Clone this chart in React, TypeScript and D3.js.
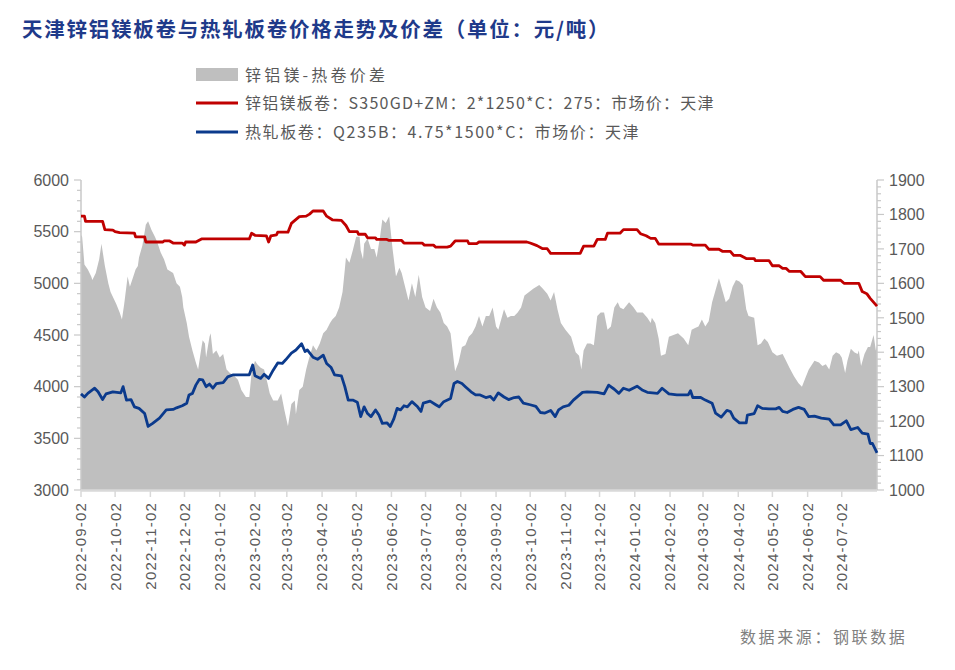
import React from "react";
import * as d3 from "d3";

const TITLE = "天津锌铝镁板卷与热轧板卷价格走势及价差（单位：元/吨）";
const LEGEND_SPREAD = "锌铝镁-热卷价差";
const LEGEND_ZAM = "锌铝镁板卷：S350GD+ZM：2*1250*C：275：市场价：天津";
const LEGEND_HRC = "热轧板卷：Q235B：4.75*1500*C：市场价：天津";
const SOURCE = "数据来源：钢联数据";

const xTickLabels = [
  "2022-09-02", "2022-10-02", "2022-11-02", "2022-12-02", "2023-01-02", "2023-02-02",
  "2023-03-02", "2023-04-02", "2023-05-02", "2023-06-02", "2023-07-02", "2023-08-02",
  "2023-09-02", "2023-10-02", "2023-11-02", "2023-12-02", "2024-01-02", "2024-02-02",
  "2024-03-02", "2024-04-02", "2024-05-02", "2024-06-02", "2024-07-02",
];
const leftTicks = [3000, 3500, 4000, 4500, 5000, 5500, 6000];
const rightTicks = [1000, 1100, 1200, 1300, 1400, 1500, 1600, 1700, 1800, 1900];

// 锌铝镁板卷 (left axis)
const zamSeries: [string, number][] = [
  ["2022-09-02", 5650], ["2022-09-05", 5650], ["2022-09-06", 5600], ["2022-09-21", 5600],
  ["2022-09-23", 5520], ["2022-09-30", 5515], ["2022-10-02", 5500], ["2022-10-06", 5490],
  ["2022-10-19", 5485], ["2022-10-20", 5450], ["2022-10-28", 5450], ["2022-10-29", 5400],
  ["2022-11-13", 5400], ["2022-11-14", 5410], ["2022-11-19", 5410], ["2022-11-22", 5390],
  ["2022-11-30", 5390], ["2022-12-02", 5370], ["2022-12-03", 5400], ["2022-12-12", 5400],
  ["2022-12-17", 5430], ["2023-01-28", 5430], ["2023-01-30", 5485], ["2023-02-02", 5465],
  ["2023-02-12", 5460], ["2023-02-14", 5400], ["2023-02-16", 5460], ["2023-02-21", 5470],
  ["2023-02-22", 5495], ["2023-03-03", 5495], ["2023-03-06", 5580], ["2023-03-13", 5645],
  ["2023-03-19", 5650], ["2023-03-22", 5670], ["2023-03-25", 5700], ["2023-04-03", 5700],
  ["2023-04-06", 5650], ["2023-04-11", 5615], ["2023-04-19", 5610], ["2023-04-23", 5560],
  ["2023-04-26", 5500], ["2023-05-03", 5500], ["2023-05-04", 5475], ["2023-05-10", 5475],
  ["2023-05-12", 5440], ["2023-05-19", 5440], ["2023-05-20", 5425], ["2023-05-29", 5425],
  ["2023-05-31", 5415], ["2023-06-11", 5415], ["2023-06-13", 5390], ["2023-06-29", 5390],
  ["2023-07-01", 5370], ["2023-07-09", 5370], ["2023-07-11", 5350], ["2023-07-21", 5350],
  ["2023-07-24", 5360], ["2023-07-28", 5410], ["2023-08-08", 5410], ["2023-08-09", 5385],
  ["2023-08-16", 5385], ["2023-08-18", 5400], ["2023-09-29", 5400], ["2023-10-02", 5390],
  ["2023-10-08", 5365], ["2023-10-13", 5335], ["2023-10-17", 5335], ["2023-10-20", 5290],
  ["2023-11-15", 5290], ["2023-11-18", 5360], ["2023-11-27", 5360], ["2023-11-30", 5425],
  ["2023-12-07", 5425], ["2023-12-09", 5485], ["2023-12-20", 5485], ["2023-12-23", 5520],
  ["2024-01-04", 5520], ["2024-01-07", 5480], ["2024-01-12", 5460], ["2024-01-16", 5435],
  ["2024-01-20", 5435], ["2024-01-23", 5380], ["2024-02-20", 5380], ["2024-02-22", 5370],
  ["2024-03-04", 5370], ["2024-03-07", 5330], ["2024-03-16", 5330], ["2024-03-19", 5310],
  ["2024-03-26", 5310], ["2024-03-29", 5270], ["2024-04-04", 5270], ["2024-04-09", 5240],
  ["2024-04-16", 5240], ["2024-04-17", 5220], ["2024-04-29", 5220], ["2024-05-02", 5170],
  ["2024-05-08", 5170], ["2024-05-11", 5145], ["2024-05-14", 5145], ["2024-05-17", 5115],
  ["2024-05-27", 5115], ["2024-05-31", 5065], ["2024-06-13", 5065], ["2024-06-16", 5030],
  ["2024-07-01", 5030], ["2024-07-04", 5000], ["2024-07-17", 5000], ["2024-07-20", 4920],
  ["2024-07-24", 4900], ["2024-07-27", 4855], ["2024-08-02", 4780],
];

// 热轧板卷 (left axis)
const hrcSeries: [string, number][] = [
  ["2022-09-02", 3930], ["2022-09-05", 3900], ["2022-09-08", 3935], ["2022-09-14", 3985],
  ["2022-09-17", 3950], ["2022-09-21", 3875], ["2022-09-24", 3930], ["2022-09-30", 3950],
  ["2022-10-07", 3940], ["2022-10-09", 4000], ["2022-10-12", 3870], ["2022-10-16", 3875],
  ["2022-10-19", 3805], ["2022-10-23", 3790], ["2022-10-28", 3740], ["2022-10-31", 3615],
  ["2022-11-04", 3645], ["2022-11-10", 3695], ["2022-11-16", 3775], ["2022-11-22", 3780],
  ["2022-11-25", 3795], ["2022-11-30", 3815], ["2022-12-04", 3840], ["2022-12-06", 3920],
  ["2022-12-09", 3935], ["2022-12-12", 4015], ["2022-12-15", 4070], ["2022-12-18", 4065],
  ["2022-12-21", 4000], ["2022-12-24", 4025], ["2022-12-27", 3985], ["2022-12-30", 4030],
  ["2023-01-05", 4040], ["2023-01-09", 4095], ["2023-01-14", 4115], ["2023-01-28", 4115],
  ["2023-01-31", 4210], ["2023-02-02", 4105], ["2023-02-07", 4080], ["2023-02-10", 4120],
  ["2023-02-14", 4080], ["2023-02-18", 4160], ["2023-02-22", 4230], ["2023-02-26", 4225],
  ["2023-03-01", 4260], ["2023-03-06", 4325], ["2023-03-10", 4355], ["2023-03-15", 4415],
  ["2023-03-18", 4340], ["2023-03-20", 4355], ["2023-03-25", 4285], ["2023-03-29", 4265],
  ["2023-04-03", 4305], ["2023-04-06", 4225], ["2023-04-10", 4185], ["2023-04-13", 4115],
  ["2023-04-19", 4105], ["2023-04-22", 4000], ["2023-04-25", 3870], ["2023-04-29", 3870],
  ["2023-05-03", 3850], ["2023-05-06", 3710], ["2023-05-09", 3805], ["2023-05-12", 3740],
  ["2023-05-15", 3710], ["2023-05-19", 3775], ["2023-05-22", 3725], ["2023-05-25", 3645],
  ["2023-05-29", 3650], ["2023-06-01", 3615], ["2023-06-04", 3685], ["2023-06-07", 3790],
  ["2023-06-10", 3775], ["2023-06-13", 3815], ["2023-06-16", 3805], ["2023-06-20", 3855],
  ["2023-06-25", 3805], ["2023-06-28", 3760], ["2023-06-30", 3840], ["2023-07-06", 3860],
  ["2023-07-11", 3825], ["2023-07-14", 3805], ["2023-07-18", 3855], ["2023-07-24", 3885],
  ["2023-07-27", 4030], ["2023-07-30", 4050], ["2023-08-03", 4030], ["2023-08-06", 4000],
  ["2023-08-11", 3950], ["2023-08-15", 3920], ["2023-08-19", 3920], ["2023-08-24", 3895],
  ["2023-08-28", 3905], ["2023-08-31", 3870], ["2023-09-04", 3940], ["2023-09-09", 3900],
  ["2023-09-13", 3875], ["2023-09-18", 3895], ["2023-09-22", 3900], ["2023-09-26", 3840],
  ["2023-10-02", 3825], ["2023-10-07", 3810], ["2023-10-11", 3750], ["2023-10-15", 3745],
  ["2023-10-20", 3770], ["2023-10-24", 3710], ["2023-10-27", 3775], ["2023-10-31", 3805],
  ["2023-11-05", 3820], ["2023-11-09", 3870], ["2023-11-17", 3945], ["2023-11-21", 3950],
  ["2023-11-30", 3945], ["2023-12-06", 3930], ["2023-12-10", 4015], ["2023-12-15", 3975],
  ["2023-12-19", 3935], ["2023-12-23", 3985], ["2023-12-28", 3965], ["2024-01-04", 4005],
  ["2024-01-09", 3965], ["2024-01-13", 3945], ["2024-01-22", 3935], ["2024-01-26", 3985],
  ["2024-02-01", 3930], ["2024-02-08", 3920], ["2024-02-18", 3920], ["2024-02-20", 3960],
  ["2024-02-22", 3895], ["2024-02-29", 3895], ["2024-03-04", 3870], ["2024-03-10", 3840],
  ["2024-03-13", 3745], ["2024-03-18", 3705], ["2024-03-23", 3770], ["2024-03-26", 3760],
  ["2024-03-29", 3695], ["2024-04-03", 3650], ["2024-04-09", 3650], ["2024-04-10", 3725],
  ["2024-04-16", 3740], ["2024-04-19", 3815], ["2024-04-23", 3790], ["2024-04-29", 3785],
  ["2024-05-05", 3785], ["2024-05-08", 3800], ["2024-05-11", 3760], ["2024-05-15", 3750],
  ["2024-05-20", 3780], ["2024-05-25", 3800], ["2024-05-30", 3780], ["2024-06-03", 3710],
  ["2024-06-08", 3715], ["2024-06-14", 3695], ["2024-06-21", 3685], ["2024-06-25", 3630],
  ["2024-07-01", 3630], ["2024-07-06", 3670], ["2024-07-10", 3585], ["2024-07-16", 3605],
  ["2024-07-20", 3550], ["2024-07-25", 3540], ["2024-07-27", 3450], ["2024-07-29", 3450],
  ["2024-08-02", 3360],
];

// 锌铝镁-热卷价差 (right axis)
const spreadSeries: [string, number][] = [
  ["2022-09-02", 1740], ["2022-09-03", 1735], ["2022-09-05", 1655], ["2022-09-08", 1640],
  ["2022-09-11", 1620], ["2022-09-12", 1610], ["2022-09-15", 1630], ["2022-09-18", 1670],
  ["2022-09-20", 1715], ["2022-09-23", 1650], ["2022-09-26", 1600], ["2022-09-28", 1575],
  ["2022-10-03", 1540], ["2022-10-06", 1515], ["2022-10-08", 1495], ["2022-10-10", 1540],
  ["2022-10-13", 1620], ["2022-10-15", 1590], ["2022-10-18", 1620], ["2022-10-20", 1640],
  ["2022-10-22", 1650], ["2022-10-23", 1675], ["2022-10-26", 1710], ["2022-10-29", 1770],
  ["2022-10-31", 1780], ["2022-11-03", 1755], ["2022-11-06", 1735], ["2022-11-08", 1720],
  ["2022-11-11", 1690], ["2022-11-14", 1670], ["2022-11-17", 1640], ["2022-11-22", 1630],
  ["2022-11-25", 1600], ["2022-11-28", 1590], ["2022-11-30", 1560], ["2022-12-01", 1530],
  ["2022-12-04", 1485], ["2022-12-06", 1445], ["2022-12-09", 1405], ["2022-12-12", 1370],
  ["2022-12-14", 1350], ["2022-12-17", 1415], ["2022-12-18", 1435], ["2022-12-20", 1425],
  ["2022-12-21", 1385], ["2022-12-24", 1445], ["2022-12-25", 1455], ["2022-12-27", 1395],
  ["2022-12-30", 1405], ["2023-01-02", 1385], ["2023-01-05", 1395], ["2023-01-08", 1350],
  ["2023-01-11", 1340], ["2023-01-15", 1330], ["2023-01-18", 1320], ["2023-01-21", 1290],
  ["2023-01-25", 1270], ["2023-01-28", 1270], ["2023-01-30", 1340], ["2023-02-02", 1375],
  ["2023-02-04", 1365], ["2023-02-07", 1355], ["2023-02-10", 1350], ["2023-02-13", 1310],
  ["2023-02-15", 1280], ["2023-02-18", 1260], ["2023-02-22", 1260], ["2023-02-25", 1280],
  ["2023-02-28", 1230], ["2023-03-03", 1185], ["2023-03-06", 1250], ["2023-03-09", 1260],
  ["2023-03-10", 1220], ["2023-03-13", 1290], ["2023-03-16", 1300], ["2023-03-19", 1350],
  ["2023-03-21", 1375], ["2023-03-25", 1420], ["2023-03-28", 1405], ["2023-03-31", 1425],
  ["2023-04-03", 1455], ["2023-04-06", 1465], ["2023-04-09", 1485], ["2023-04-11", 1495],
  ["2023-04-14", 1505], ["2023-04-17", 1530], ["2023-04-20", 1575], ["2023-04-22", 1640],
  ["2023-04-23", 1675], ["2023-04-26", 1660], ["2023-04-29", 1695], ["2023-05-02", 1735],
  ["2023-05-05", 1735], ["2023-05-06", 1695], ["2023-05-08", 1670], ["2023-05-09", 1715],
  ["2023-05-12", 1730], ["2023-05-15", 1700], ["2023-05-18", 1700], ["2023-05-20", 1675],
  ["2023-05-23", 1735], ["2023-05-25", 1785], ["2023-05-28", 1775], ["2023-05-31", 1795],
  ["2023-06-03", 1700], ["2023-06-06", 1620], ["2023-06-09", 1645], ["2023-06-11", 1630],
  ["2023-06-14", 1590], ["2023-06-17", 1550], ["2023-06-20", 1600], ["2023-06-23", 1560],
  ["2023-06-26", 1625], ["2023-06-29", 1560], ["2023-07-02", 1530], ["2023-07-06", 1520],
  ["2023-07-09", 1555], ["2023-07-12", 1530], ["2023-07-15", 1515], ["2023-07-18", 1485],
  ["2023-07-21", 1475], ["2023-07-24", 1455], ["2023-07-27", 1370], ["2023-07-28", 1345],
  ["2023-07-31", 1370], ["2023-08-03", 1415], ["2023-08-06", 1420], ["2023-08-09", 1445],
  ["2023-08-12", 1455], ["2023-08-15", 1475], ["2023-08-18", 1505], ["2023-08-21", 1475],
  ["2023-08-24", 1505], ["2023-08-27", 1505], ["2023-08-30", 1530], ["2023-09-02", 1475],
  ["2023-09-04", 1465], ["2023-09-09", 1525], ["2023-09-12", 1500], ["2023-09-15", 1505],
  ["2023-09-18", 1505], ["2023-09-21", 1515], ["2023-09-24", 1530], ["2023-09-27", 1565],
  ["2023-10-01", 1575], ["2023-10-05", 1585], ["2023-10-10", 1595], ["2023-10-13", 1585],
  ["2023-10-17", 1570], ["2023-10-20", 1550], ["2023-10-23", 1575], ["2023-10-26", 1525],
  ["2023-10-29", 1485], ["2023-11-02", 1465], ["2023-11-07", 1445], ["2023-11-11", 1400],
  ["2023-11-14", 1390], ["2023-11-16", 1350], ["2023-11-18", 1405], ["2023-11-21", 1425],
  ["2023-11-24", 1425], ["2023-11-27", 1420], ["2023-11-30", 1505], ["2023-12-03", 1515],
  ["2023-12-06", 1515], ["2023-12-09", 1465], ["2023-12-12", 1475], ["2023-12-15", 1530],
  ["2023-12-18", 1545], ["2023-12-20", 1530], ["2023-12-23", 1525], ["2023-12-28", 1545],
  ["2024-01-01", 1530], ["2024-01-04", 1515], ["2024-01-09", 1515], ["2024-01-13", 1500],
  ["2024-01-16", 1485], ["2024-01-17", 1500], ["2024-01-20", 1485], ["2024-01-23", 1440],
  ["2024-01-25", 1390], ["2024-01-29", 1395], ["2024-02-01", 1445], ["2024-02-05", 1450],
  ["2024-02-09", 1455], ["2024-02-14", 1440], ["2024-02-18", 1420], ["2024-02-21", 1465],
  ["2024-02-24", 1470], ["2024-02-27", 1475], ["2024-03-01", 1495], ["2024-03-04", 1475],
  ["2024-03-07", 1490], ["2024-03-10", 1545], ["2024-03-13", 1580], ["2024-03-16", 1615],
  ["2024-03-19", 1580], ["2024-03-22", 1545], ["2024-03-25", 1555], ["2024-03-28", 1590],
  ["2024-03-31", 1610], ["2024-04-03", 1605], ["2024-04-06", 1595], ["2024-04-09", 1525],
  ["2024-04-11", 1505], ["2024-04-16", 1500], ["2024-04-19", 1420], ["2024-04-22", 1425],
  ["2024-04-25", 1440], ["2024-04-28", 1430], ["2024-05-02", 1400], ["2024-05-06", 1390],
  ["2024-05-11", 1395], ["2024-05-14", 1375], ["2024-05-17", 1355], ["2024-05-21", 1330],
  ["2024-05-25", 1310], ["2024-05-28", 1300], ["2024-05-31", 1325], ["2024-06-03", 1350],
  ["2024-06-08", 1375], ["2024-06-12", 1370], ["2024-06-15", 1360], ["2024-06-18", 1365],
  ["2024-06-21", 1350], ["2024-06-24", 1390], ["2024-06-27", 1400], ["2024-06-30", 1395],
  ["2024-07-02", 1385], ["2024-07-05", 1340], ["2024-07-07", 1375], ["2024-07-10", 1410],
  ["2024-07-13", 1400], ["2024-07-16", 1395], ["2024-07-17", 1405], ["2024-07-19", 1360],
  ["2024-07-22", 1395], ["2024-07-25", 1415], ["2024-07-27", 1415], ["2024-07-30", 1450],
  ["2024-08-01", 1405], ["2024-08-02", 1420],
];

const parse = d3.timeParse("%Y-%m-%d");
const W = 955;
const H = 670;
const M = { left: 81, right: 877, top: 180, bottom: 490 };

const RED = "#c00000";
const BLUE = "#0b3a8c";
const GRAY = "#bfbfbf";
const AXIS = "#c8c8c8";
const LABEL = "#595959";
const LATIN = "'Liberation Sans', Arial, sans-serif";
const CJK = "'Noto Sans CJK SC', 'Noto Sans', sans-serif";

export default function App() {
  const x = d3
    .scaleTime()
    .domain([parse("2022-09-02") as Date, parse("2024-08-02") as Date])
    .range([M.left, M.right]);
  const yL = d3.scaleLinear().domain([3000, 6000]).range([M.bottom, M.top]);
  const yR = d3.scaleLinear().domain([1000, 1900]).range([M.bottom, M.top]);

  const area = d3
    .area<[string, number]>()
    .x((d) => x(parse(d[0]) as Date))
    .y0(yR(1000))
    .y1((d) => yR(d[1]));
  const lineL = d3
    .line<[string, number]>()
    .x((d) => x(parse(d[0]) as Date))
    .y((d) => yL(d[1]));

  const leftMinor = d3.range(3000, 6001, 100);
  const rightMinor = d3.range(1000, 1901, 20);

  return (
    <svg width={W} height={H} style={{ display: "block", position: "absolute", left: 0, top: 0 }}>
      <rect x={0} y={0} width={W} height={H} fill="#ffffff" />
      <text x={22} y={37} fontFamily={CJK} fontWeight={700} fontSize={20.5} letterSpacing={1.75} fill="#1f3a8a">
        {TITLE}
      </text>

      {/* legend */}
      <rect x={196} y={68} width={42} height={13} fill={GRAY} />
      <text x={245} y={81} fontFamily={CJK} fontSize={16} letterSpacing={3.2} fill={LABEL}>
        {LEGEND_SPREAD}
      </text>
      <line x1={196} x2={238} y1={103} y2={103} stroke={RED} strokeWidth={3} />
      <text x={245} y={109} fontFamily={CJK} fontSize={16} letterSpacing={1.25} fill={LABEL}>
        {LEGEND_ZAM}
      </text>
      <line x1={196} x2={238} y1={132} y2={132} stroke={BLUE} strokeWidth={3} />
      <text x={245} y={138} fontFamily={CJK} fontSize={16} letterSpacing={1.6} fill={LABEL}>
        {LEGEND_HRC}
      </text>

      {/* spread area */}
      <path d={area(spreadSeries) || ""} fill={GRAY} />

      {/* axes */}
      <line x1={M.left} x2={M.left} y1={M.top} y2={M.bottom} stroke={AXIS} strokeWidth={1.5} />
      {leftMinor.map((v) => (
        <line key={"lm" + v} x1={M.left - (v % 500 === 0 ? 7 : 4)} x2={M.left} y1={yL(v)} y2={yL(v)} stroke={AXIS} strokeWidth={1.2} />
      ))}
      {leftTicks.map((v) => (
        <text key={"lt" + v} x={M.left - 12} y={yL(v)} dy="0.36em" textAnchor="end" fontFamily={LATIN} fontSize={16} fill={LABEL}>
          {v}
        </text>
      ))}
      <line x1={M.right} x2={M.right} y1={M.top} y2={M.bottom} stroke={AXIS} strokeWidth={1.5} />
      {rightMinor.map((v) => (
        <line key={"rm" + v} x1={M.right} x2={M.right + (v % 100 === 0 ? 7 : 4)} y1={yR(v)} y2={yR(v)} stroke={AXIS} strokeWidth={1.2} />
      ))}
      {rightTicks.map((v) => (
        <text key={"rt" + v} x={M.right + 12} y={yR(v)} dy="0.36em" textAnchor="start" fontFamily={LATIN} fontSize={16} fill={LABEL}>
          {v}
        </text>
      ))}
      <line x1={M.left} x2={M.right} y1={M.bottom + 0.5} y2={M.bottom + 0.5} stroke="#d9d9d9" strokeWidth={2.5} />
      {xTickLabels.map((s) => {
        const px = x(parse(s) as Date);
        return (
          <g key={s}>
            <line x1={px} x2={px} y1={M.bottom} y2={M.bottom + 7} stroke="#d9d9d9" strokeWidth={1.5} />
            <text
              transform={`translate(${px},${M.bottom + 12}) rotate(-90)`}
              dy="0.36em"
              textAnchor="end"
              fontFamily={LATIN}
              fontSize={15}
              letterSpacing={1.2}
              fill={LABEL}
            >
              {s}
            </text>
          </g>
        );
      })}

      {/* lines */}
      <path d={lineL(zamSeries) || ""} fill="none" stroke={RED} strokeWidth={2.8} strokeLinejoin="round" />
      <path d={lineL(hrcSeries) || ""} fill="none" stroke={BLUE} strokeWidth={2.8} strokeLinejoin="round" />

      <text x={740} y={643} fontFamily={CJK} fontSize={16} letterSpacing={2.6} fill="#808080">
        {SOURCE}
      </text>
    </svg>
  );
}
